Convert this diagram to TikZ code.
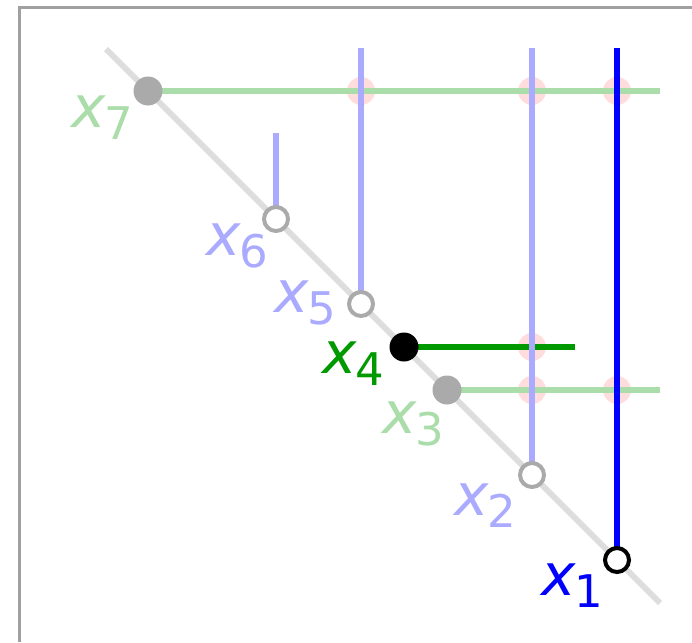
\documentclass[tikz,border=0pt]{standalone}
\usepackage{fontspec}
\newfontfamily\lblfont{DejaVu Sans}
\usetikzlibrary{calc}
\definecolor{framegray}{HTML}{A0A0A0}
\definecolor{diaggray}{HTML}{DDDDDD}
\definecolor{ptgray}{HTML}{AAAAAA}
\definecolor{lgreen}{HTML}{AADDAA}
\definecolor{dgreen}{HTML}{009900}
\definecolor{lblue}{HTML}{AAAAFF}
\definecolor{dblue}{HTML}{0000FF}
\definecolor{lpink}{HTML}{FFDDDD}
\newcommand{\xlab}[1]{{\fontsize{58}{58}\selectfont\itshape x}\kern-1pt\raisebox{-12pt}{\fontsize{45}{45}\selectfont #1}}
\tikzset{
  seg/.style={line width=6pt},
  hit/.style={circle, fill=lpink, minimum size=28pt, inner sep=0pt},
  filledpt/.style={circle, minimum size=29pt, inner sep=0pt},
  openpt/.style={circle, fill=white, line width=4pt, minimum size=24pt, inner sep=0pt},
  lab/.style={inner sep=0pt, anchor=base west, font=\lblfont},
}
\begin{document}
\begin{tikzpicture}[x=1pt,y=-1pt]
\useasboundingbox (0,0) rectangle (692,642);
\fill[white] (0,0) rectangle (692,642);
\draw[framegray, line width=3pt] (19.5,642) -- (19.5,8) -- (692,8);
% diagonal
\coordinate (d0) at (106,49);
\coordinate (d1) at (660,603);
\draw[diaggray, seg] (d0) -- (d1);
% intersection marks
\node[hit] (h1) at (361,91) {};
\node[hit] (h2) at (532,91) {};
\node[hit] (h3) at (617,91) {};
\node[hit] (h4) at (532,347) {};
\node[hit] (h5) at (532,390) {};
\node[hit] (h6) at (617,390) {};
% point positions
\coordinate (p7) at (148,91);
\coordinate (p6) at (276,219);
\coordinate (p5) at (361,304);
\coordinate (p4) at (404,347);
\coordinate (p3) at (447,390);
\coordinate (p2) at (532,475);
\coordinate (p1) at (617,560);
% free ends
\coordinate (e7) at (660,91);
\coordinate (e6) at (276,133);
\coordinate (e5) at (361,48);
\coordinate (e4) at (575,347);
\coordinate (e3) at (660,390);
\coordinate (e2) at (532,48);
\coordinate (e1) at (617,48);
\draw[lgreen, seg] (p7) -- (e7);
\draw[lblue, seg] (p6) -- (e6);
\draw[lblue, seg] (p5) -- (e5);
\draw[dgreen, seg] (p4) -- (e4);
\draw[lgreen, seg] (p3) -- (e3);
\draw[lblue, seg] (p2) -- (e2);
\draw[dblue, seg] (p1) -- (e1);
% point nodes
\node[filledpt, fill=ptgray] (n7) at (p7) {};
\node[openpt, draw=ptgray] (n6) at (p6) {};
\node[openpt, draw=ptgray] (n5) at (p5) {};
\node[filledpt, fill=black] (n4) at (p4) {};
\node[filledpt, fill=ptgray] (n3) at (p3) {};
\node[openpt, draw=ptgray] (n2) at (p2) {};
\node[openpt, draw=black] (n1) at (p1) {};
% labels
\node[lab, text=lgreen] (l7) at ($(p7)+(-77,36)$) {\xlab{7}};
\node[lab, text=lblue] (l6) at ($(p6)+(-70,36)$) {\xlab{6}};
\node[lab, text=lblue] (l5) at ($(p5)+(-87,8)$) {\xlab{5}};
\node[lab, text=dgreen] (l4) at ($(p4)+(-82,26)$) {\xlab{4}};
\node[lab, text=lgreen] (l3) at ($(p3)+(-65,43)$) {\xlab{3}};
\node[lab, text=lblue] (l2) at ($(p2)+(-78,40)$) {\xlab{2}};
\node[lab, text=dblue] (l1) at ($(p1)+(-76,35)$) {\xlab{1}};
\end{tikzpicture}
\end{document}
